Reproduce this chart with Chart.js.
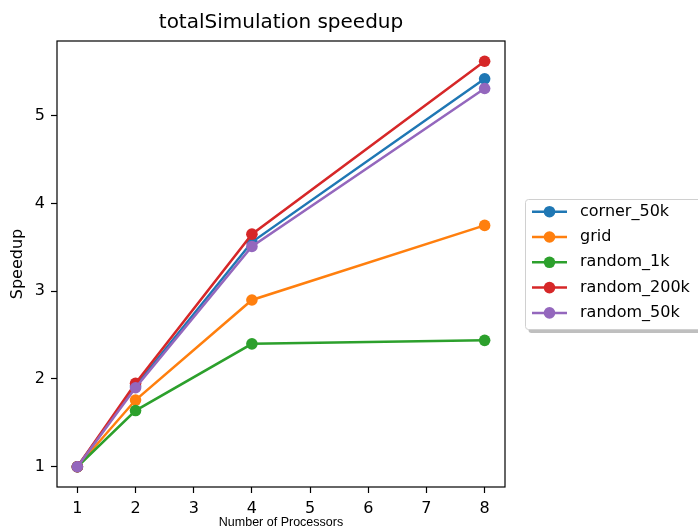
<!DOCTYPE html>
<html>
<head>
<meta charset="utf-8">
<script src="https://cdn.jsdelivr.net/npm/chart.js@4/dist/chart.umd.min.js"></script>
<style>
  html, body { margin: 0; padding: 0; background: #fff; }
  #wrap { width: 698px; height: 531px; position: relative; }
</style>
</head>
<body>
<div id="wrap"><canvas id="c" width="698" height="531"></canvas></div>
<script>
const processors = [1, 2, 4, 8];
const seriesNames = ['corner_50k', 'grid', 'random_1k', 'random_200k', 'random_50k'];
const corner_50k  = [1, 1.92, 3.56, 5.42];
const grid        = [1, 1.76, 2.90, 3.75];
const random_1k   = [1, 1.64, 2.40, 2.44];
const random_200k = [1, 1.95, 3.65, 5.62];
const random_50k  = [1, 1.90, 3.51, 5.31];
const seriesValues = [corner_50k, grid, random_1k, random_200k, random_50k];
const seriesColors = ['#1f77b4', '#ff7f0e', '#2ca02c', '#d62728', '#9467bd'];
const xTicks = [1, 2, 3, 4, 5, 6, 7, 8];
const yTicks = [1, 2, 3, 4, 5];

const FONT = "'DejaVu Sans', sans-serif";

const datasets = seriesNames.map((name, i) => ({
  label: name,
  data: processors.map((p, j) => ({ x: p, y: seriesValues[i][j] })),
  borderColor: seriesColors[i],
  backgroundColor: seriesColors[i],
  pointBackgroundColor: seriesColors[i],
  pointBorderColor: seriesColors[i],
  pointBorderWidth: 0,
  pointRadius: 5.8,
  borderWidth: 2.5,
  tension: 0,
  fill: false,
  order: seriesNames.length - i
}));

const frame = {
  id: 'frame',
  afterDatasetsDraw(chart) {
    const { ctx, chartArea: a } = chart;
    ctx.save();
    ctx.strokeStyle = '#000';
    ctx.lineWidth = 1.2;
    ctx.strokeRect(a.left, a.top, a.right - a.left, a.bottom - a.top);
    ctx.restore();
  }
};

const outsideLegend = {
  id: 'outsideLegend',
  afterDraw(chart) {
    const ctx = chart.ctx;
    const x0 = 525.5, y0 = 199.5, w = 200, h = 130;
    const r = 3;
    ctx.save();
    ctx.fillStyle = 'rgba(128,128,128,0.5)';
    ctx.beginPath();
    ctx.roundRect(x0 + 3, y0 + 3.5, w, h, r);
    ctx.fill();
    ctx.fillStyle = '#fff';
    ctx.strokeStyle = '#d0d0d0';
    ctx.lineWidth = 1;
    ctx.beginPath();
    ctx.roundRect(x0, y0, w, h, r);
    ctx.fill();
    ctx.stroke();
    const ds = chart.data.datasets;
    const rowH = 25.3;
    ds.forEach((d, i) => {
      const y = 211.7 + i * rowH;
      ctx.strokeStyle = d.borderColor;
      ctx.lineWidth = 2.5;
      ctx.beginPath();
      ctx.moveTo(532, y);
      ctx.lineTo(567, y);
      ctx.stroke();
      ctx.fillStyle = d.borderColor;
      ctx.beginPath();
      ctx.arc(549.5, y, 5.8, 0, Math.PI * 2);
      ctx.fill();
      ctx.fillStyle = '#000';
      ctx.font = "16px " + FONT;
      ctx.textBaseline = 'middle';
      ctx.textAlign = 'left';
      ctx.fillText(d.label, 580, y);
    });
    ctx.restore();
  }
};

new Chart(document.getElementById('c'), {
  type: 'line',
  data: { datasets },
  plugins: [frame, outsideLegend],
  options: {
    responsive: false,
    animation: false,
    devicePixelRatio: 1,
    layout: { padding: { left: 0, right: 193, top: 0, bottom: 0 } },
    plugins: {
      legend: { display: false },
      tooltip: { enabled: false },
      title: {
        display: true,
        text: 'totalSimulation speedup',
        fullSize: false,
        color: '#000',
        font: { family: FONT, size: 20, weight: 'normal', lineHeight: 1.2 },
        padding: { top: 10.5, bottom: 6.5 }
      }
    },
    scales: {
      x: {
        type: 'linear',
        min: 0.65,
        max: 8.35,
        afterFit(scale) { scale.height = 44; },
        afterBuildTicks(scale) { scale.ticks = xTicks.map(v => ({ value: v })); },
        grid: { drawOnChartArea: false, drawTicks: true, tickLength: 6, tickWidth: 1.2, color: '#000' },
        border: { display: false },
        ticks: {
          color: '#000',
          padding: 6,
          maxRotation: 0,
          autoSkip: false,
          font: { family: FONT, size: 16 },
          callback: v => String(v)
        },
        title: {
          display: true,
          text: 'Number of Processors',
          color: '#000',
          font: { family: "'Liberation Sans', Arial, sans-serif", size: 12.5 },
          padding: { top: 0, bottom: 1 }
        }
      },
      y: {
        type: 'linear',
        min: 0.769,
        max: 5.851,
        afterFit(scale) { scale.width = 57; },
        afterBuildTicks(scale) { scale.ticks = yTicks.map(v => ({ value: v })); },
        grid: { drawOnChartArea: false, drawTicks: true, tickLength: 6, tickWidth: 1.2, color: '#000' },
        border: { display: false },
        ticks: {
          color: '#000',
          padding: 6,
          autoSkip: false,
          font: { family: FONT, size: 16 },
          callback: v => String(v)
        },
        title: {
          display: true,
          text: 'Speedup',
          color: '#000',
          font: { family: FONT, size: 16 },
          padding: { top: 8, bottom: 0 }
        }
      }
    }
  }
});
</script>
</body>
</html>
